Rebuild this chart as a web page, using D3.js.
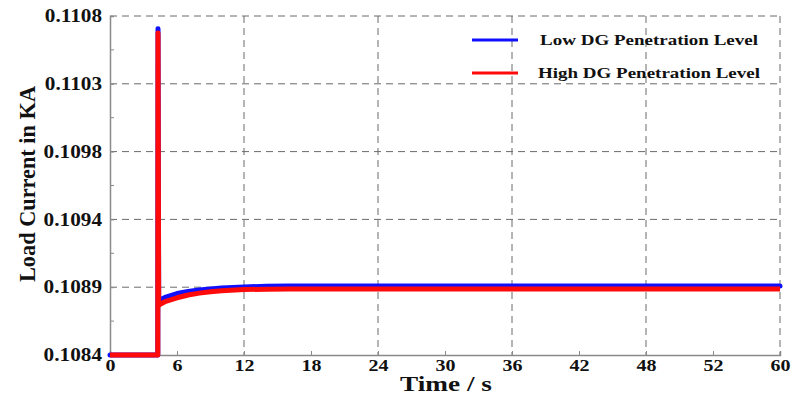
<!DOCTYPE html>
<html>
<head>
<meta charset="utf-8">
<script src="https://cdn.jsdelivr.net/npm/d3@7"></script>
<style>
  html, body { margin: 0; padding: 0; background: #fff; }
  text { font-family: "Liberation Serif", "Times New Roman", serif; font-weight: bold; fill: #111; }
</style>
</head>
<body>
<div id="chart"></div>
<script>
// time in seconds
const timeLow = [0, 4.28, 4.3, 4.36, 4.5, 5, 6, 7, 8, 9, 10, 12, 14, 16, 20, 30, 40, 50, 60];
const valueLow = [0.1084, 0.1084, 0.11071, 0.10878, 0.10879, 0.10881, 0.108835, 0.10885, 0.10886, 0.108868, 0.108874, 0.108882, 0.108886, 0.108888, 0.108888, 0.108888, 0.108888, 0.108888, 0.108888];

const timeHigh = [0, 4.28, 4.3, 4.36, 4.5, 5, 6, 7, 8, 9, 10, 12, 14, 16, 20, 30, 40, 50, 60];
const valueHigh = [0.1084, 0.1084, 0.11068, 0.10875, 0.10876, 0.10878, 0.108805, 0.108825, 0.108838, 0.108848, 0.108855, 0.108863, 0.108866, 0.108867, 0.108867, 0.108867, 0.108867, 0.108867, 0.108867];

const xTickValues = [0, 6, 12, 18, 24, 30, 36, 42, 48, 54, 60];
const xTickLabels = ['0', '6', '12', '18', '24', '30', '36', '42', '48', '52', '60'];
const xGridValues = [12, 24, 36, 48, 60];
const yTickValues = [0.1084, 0.10888, 0.10936, 0.10984, 0.11032, 0.1108];
const yTickLabels = ['0.1084', '0.1089', '0.1094', '0.1098', '0.1103', '0.1108'];
const yMinorValues = [0.10864, 0.10912, 0.1096, 0.11008, 0.11056];

const seriesNames = ['Low DG Penetration Level', 'High DG Penetration Level'];
const seriesColors = ['#1010ff', '#ff0a0a'];

const width = 794;
const height = 396;
const margin = { top: 16, right: 14, bottom: 41, left: 110 };

const svg = d3.select('#chart').append('svg')
  .attr('width', width)
  .attr('height', height);

const xScale = d3.scaleLinear().domain([0, 60]).range([margin.left, width - margin.right]);
const yScale = d3.scaleLinear().domain([0.1084, 0.1108]).range([height - margin.bottom, margin.top]);

const gridColor = '#6a6a6a';
const axisColor = '#8a8a8a';

// gridlines
svg.append('g')
  .selectAll('line')
  .data(yTickValues.slice(1))
  .join('line')
  .attr('x1', margin.left)
  .attr('x2', width - margin.right)
  .attr('y1', (d) => yScale(d))
  .attr('y2', (d) => yScale(d))
  .attr('stroke', gridColor)
  .attr('stroke-width', 1)
  .attr('stroke-dasharray', '7,5');

svg.append('g')
  .selectAll('line')
  .data(xGridValues)
  .join('line')
  .attr('x1', (d) => xScale(d))
  .attr('x2', (d) => xScale(d))
  .attr('y1', yScale.range()[1])
  .attr('y2', yScale.range()[0])
  .attr('stroke', gridColor)
  .attr('stroke-width', 1)
  .attr('stroke-dasharray', '7,5');

// axes
const xAxis = d3.axisBottom(xScale)
  .tickValues(xTickValues)
  .tickSize(-4)
  .tickPadding(5)
  .tickFormat((d, i) => xTickLabels[i]);

const gx = svg.append('g')
  .attr('transform', `translate(0, ${height - margin.bottom})`)
  .call(xAxis);

const yAxis = d3.axisLeft(yScale)
  .tickValues(yTickValues)
  .tickSize(-4)
  .tickPadding(8)
  .tickFormat((d, i) => yTickLabels[i]);

const gy = svg.append('g')
  .attr('transform', `translate(${margin.left}, 0)`)
  .call(yAxis);

svg.append('g')
  .selectAll('line')
  .data(yMinorValues)
  .join('line')
  .attr('x1', margin.left)
  .attr('x2', margin.left + 4)
  .attr('y1', (d) => yScale(d))
  .attr('y2', (d) => yScale(d))
  .attr('stroke', axisColor);

[gx, gy].forEach((g) => {
  g.select('.domain').attr('stroke', axisColor).attr('stroke-width', 1.5);
  g.selectAll('.tick line').attr('stroke', axisColor);
  g.selectAll('.tick text')
    .attr('fill', '#111')
    .style('font-family', '"Liberation Serif", serif')
    .style('font-weight', 'bold');
});
gx.selectAll('.tick text').attr('font-size', 16);
gy.selectAll('.tick text').attr('font-size', 18);

// stretch tick labels horizontally a little
gx.selectAll('.tick text').attr('transform', 'scale(1.25,1)').attr('x', 0);
gy.selectAll('.tick text').each(function () {
  const t = d3.select(this);
  const x = +t.attr('x');
  t.attr('transform', `translate(${x},0) scale(1.18,1)`).attr('x', 0);
});

// lines
const line = d3.line()
  .x((d) => xScale(d[0]))
  .y((d) => yScale(d[1]));

const lowData = timeLow.map((t, i) => [t, valueLow[i]]);
const highData = timeHigh.map((t, i) => [t, valueHigh[i]]);

svg.append('path')
  .datum(lowData)
  .attr('fill', 'none')
  .attr('stroke', seriesColors[0])
  .attr('stroke-width', 5)
  .attr('stroke-linecap', 'round')
  .attr('stroke-linejoin', 'round')
  .attr('d', line);

svg.append('path')
  .datum(highData)
  .attr('fill', 'none')
  .attr('stroke', seriesColors[1])
  .attr('stroke-width', 5)
  .attr('stroke-linecap', 'butt')
  .attr('stroke-linejoin', 'round')
  .attr('d', line);

// legend
const legend = svg.append('g');
seriesNames.forEach((name, i) => {
  const y = 40 + i * 33;
  legend.append('line')
    .attr('x1', 472).attr('x2', 518)
    .attr('y1', y).attr('y2', y)
    .attr('stroke', seriesColors[i])
    .attr('stroke-width', 3);
  legend.append('text')
    .attr('x', 649)
    .attr('y', y + 5)
    .attr('text-anchor', 'middle')
    .attr('font-size', 15)
    .attr('textLength', i === 0 ? 218 : 222)
    .attr('lengthAdjust', 'spacingAndGlyphs')
    .text(name);
});

// axis titles
svg.append('text')
  .attr('transform', `translate(446, 391) scale(1.24,1)`)
  .attr('text-anchor', 'middle')
  .attr('font-size', 22)
  .text('Time / s');

svg.append('text')
  .attr('transform', `translate(35, 184) rotate(-90)`)
  .attr('text-anchor', 'middle')
  .attr('font-size', 23)
  .attr('textLength', 196)
  .attr('lengthAdjust', 'spacingAndGlyphs')
  .text('Load Current in KA');
</script>
</body>
</html>
